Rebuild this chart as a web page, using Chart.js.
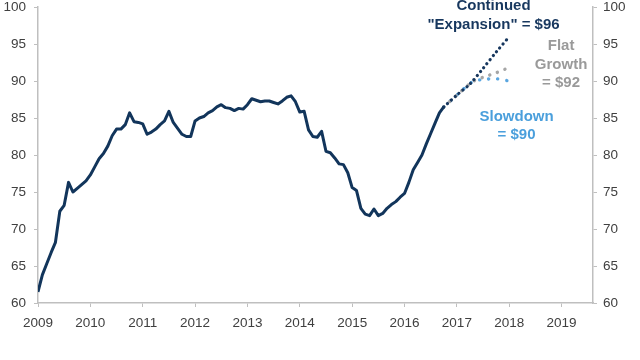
<!DOCTYPE html>
<html>
<head>
<meta charset="utf-8">
<script src="https://cdn.jsdelivr.net/npm/chart.js@4/dist/chart.umd.min.js"></script>
<style>
html,body{margin:0;padding:0;background:#fff;}
#wrap{width:640px;height:360px;position:relative;}
</style>
</head>
<body>
<div id="wrap"><canvas id="c" width="640" height="360"></canvas></div>
<script>
// ---- data ----
const startYear = 2009; // monthly series starts Jan 2009
const history = [61.5,63.8,65.3,66.8,68.2,72.4,73.2,76.3,75.0,75.5,76.0,76.5,
  77.3,78.4,79.5,80.2,81.2,82.6,83.5,83.5,84.1,85.7,84.5,84.4,
  84.2,82.8,83.1,83.5,84.1,84.6,85.9,84.4,83.6,82.8,82.5,82.5,
  84.6,85.0,85.2,85.7,86.0,86.5,86.8,86.4,86.3,86.0,86.3,86.2,
  86.8,87.6,87.4,87.2,87.3,87.3,87.1,86.9,87.3,87.8,88.0,87.2,
  85.8,85.9,83.4,82.5,82.4,83.2,80.5,80.3,79.6,78.8,78.7,77.6,
  75.6,75.2,72.8,72.0,71.8,72.7,71.8,72.1,72.8,73.3,73.7,74.3,
  74.8,76.3,78.0,79.0,80.0,81.5,82.9,84.3,85.7,86.5];
const expansionX = [2016.75, 2017.0, 2017.25, 2017.5, 2017.75, 2018.0];
const expansionY = [86.5, 88.1, 89.6, 91.7, 93.9, 96.0];
const flatX = [2016.75, 2017.0, 2017.3, 2017.5, 2017.75, 2017.92];
const flatY = [86.5, 88.1, 89.9, 90.5, 91.1, 91.6];
const slowX = [2016.75, 2017.0, 2017.3, 2017.5, 2017.75, 2018.0];
const slowY = [86.5, 88.1, 89.9, 90.2, 90.3, 90.0];
const years = [2009,2010,2011,2012,2013,2014,2015,2016,2017,2018,2019];
const yTicks = [60,65,70,75,80,85,90,95,100];

// ---- labels drawn on the chart ----
const notes = [
  {lines:['Continued','"Expansion" = $96'], x:2017.70, y:[100.1,97.6], color:'#17375e'},
  {lines:['Flat','Growth','= $92'], x:2018.99, y:[94.7,92.2,89.8], color:'#9a9a9a'},
  {lines:['Slowdown','= $90'], x:2018.14, y:[85.2,82.7], color:'#4a9fdc'}
];

const histPts = history.map((v,i)=>({x:startYear + i/12, y:v}));
const zip = (xs,ys)=>xs.map((x,i)=>({x:x,y:ys[i]}));

const notesPlugin = {
  id:'notes',
  afterDatasetsDraw(chart){
    const ctx = chart.ctx, xs = chart.scales.x, ys = chart.scales.y;
    ctx.save();
    ctx.font = 'bold 15px "Liberation Sans", Arial, sans-serif';
    ctx.textAlign = 'center';
    ctx.textBaseline = 'middle';
    notes.forEach(n=>{
      ctx.fillStyle = n.color;
      n.lines.forEach((t,i)=>ctx.fillText(t, xs.getPixelForValue(n.x), ys.getPixelForValue(n.y[i])));
    });
    ctx.restore();
  }
};

const axisColor = '#bfbfbf';
const tickFont = {family:'"Liberation Sans", Arial, sans-serif', size:13.5};
const yAxis = (pos, pad, w) => ({
  type:'linear', position:pos, min:60, max:100,
  afterBuildTicks: s => { s.ticks = yTicks.map(v=>({value:v})); },
  afterFit: s => { s.width = w; s.paddingTop = 7; s.paddingBottom = 0; },
  ticks:{color:'#404040', font:tickFont, padding:pad, callback:v=>String(v)},
  grid:{drawOnChartArea:false, drawTicks:true, tickLength:4, color:axisColor},
  border:{display:true, color:axisColor, width:1.5}
});

new Chart(document.getElementById('c'), {
  type:'line',
  data:{datasets:[
    {data:zip(slowX,slowY), borderColor:'#5aa6e0', borderWidth:3.4, borderDash:[0.1,9],
     borderCapStyle:'round', pointRadius:0, tension:0.3, order:4},
    {data:zip(flatX,flatY), borderColor:'#a6a6a6', borderWidth:3.4, borderDash:[0.1,8],
     borderCapStyle:'round', pointRadius:0, tension:0.3, order:3},
    {data:zip(expansionX,expansionY), borderColor:'#17375e', borderWidth:3.2, borderDash:[0.1,5],
     borderCapStyle:'round', pointRadius:0, tension:0.3, order:2},
    {data:histPts, borderColor:'#12355b', borderWidth:3, pointRadius:0, tension:0,
     borderJoinStyle:'round', order:1}
  ]},
  options:{
    responsive:false, animation:false,
    layout:{padding:{top:0, left:0, right:0, bottom:0}},
    plugins:{legend:{display:false}, tooltip:{enabled:false}},
    scales:{
      x:{type:'linear', min:2009, max:2019.6,
        afterBuildTicks: s => { s.ticks = years.map(v=>({value:v})); },
        afterFit: s => { s.height = 57; },
        ticks:{color:'#404040', font:tickFont, padding:8, maxRotation:0, autoSkip:false, callback:v=>String(v)},
        grid:{drawOnChartArea:false, drawTicks:true, tickLength:4, color:axisColor},
        border:{display:true, color:axisColor, width:1.5}},
      y:yAxis('left', 8, 38),
      y2:yAxis('right', 6, 47)
    }
  },
  plugins:[notesPlugin]
});
</script>
</body>
</html>
